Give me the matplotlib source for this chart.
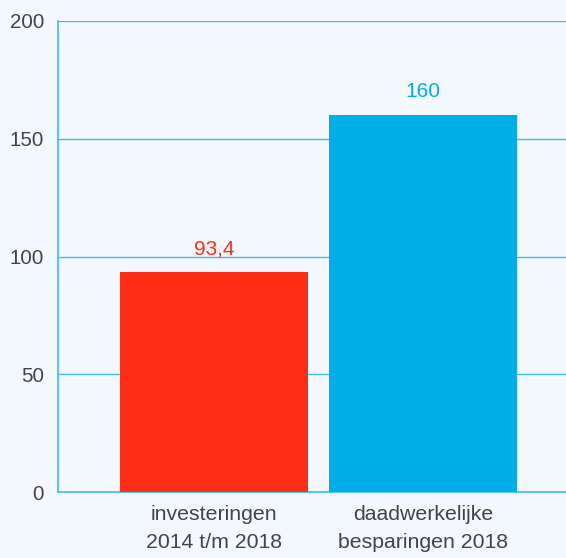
import matplotlib
matplotlib.use("Agg")
import matplotlib.pyplot as plt

categories = ["investeringen\n2014 t/m 2018", "daadwerkelijke\nbesparingen 2018"]
values = [93.4, 160]
value_labels = ["93,4", "160"]
colors = ["#FF2E17", "#00ADE6"]
yticks = [0, 50, 100, 150, 200]

plt.rcParams['font.family'] = ['Liberation Sans', 'DejaVu Sans']
bg = "#F3F8FE"
grid_c = "#3DBBE9"
txt_c = "#444444"

fig = plt.figure(figsize=(5.66, 5.58), dpi=100, facecolor=bg)
ax = fig.add_axes([58/566, 1-492/558, (566-58)/566, (492-21)/558])
ax.set_facecolor(bg)
x = list(range(len(categories)))
ax.bar(x, values, width=0.9, color=colors, zorder=3)
ax.set_xlim(-0.746, 1.684)
ax.set_ylim(0, 200)
ax.set_yticks(yticks)
ax.set_yticklabels([str(t) for t in yticks])
ax.yaxis.grid(True, color=grid_c, linewidth=1, zorder=0)
ax.set_xticks(x)
ax.set_xticklabels(categories, linespacing=1.6)
ax.tick_params(axis='both', length=0, colors=txt_c)
ax.tick_params(axis='y', pad=10, labelsize=14.8)
ax.tick_params(axis='x', pad=9, labelsize=15.3)
for s in ['top', 'right']:
    ax.spines[s].set_visible(False)
for s in ['left', 'bottom']:
    ax.spines[s].set_color(grid_c)
    ax.spines[s].set_linewidth(1.2)
for xi, v, lab, c in zip(x, values, value_labels, colors):
    ax.annotate(lab, (xi, v), xytext=(0, 10), textcoords='offset points',
                ha='center', va='bottom', color=c, fontsize=15)
fig.savefig("out.png", dpi=100, facecolor=bg)
